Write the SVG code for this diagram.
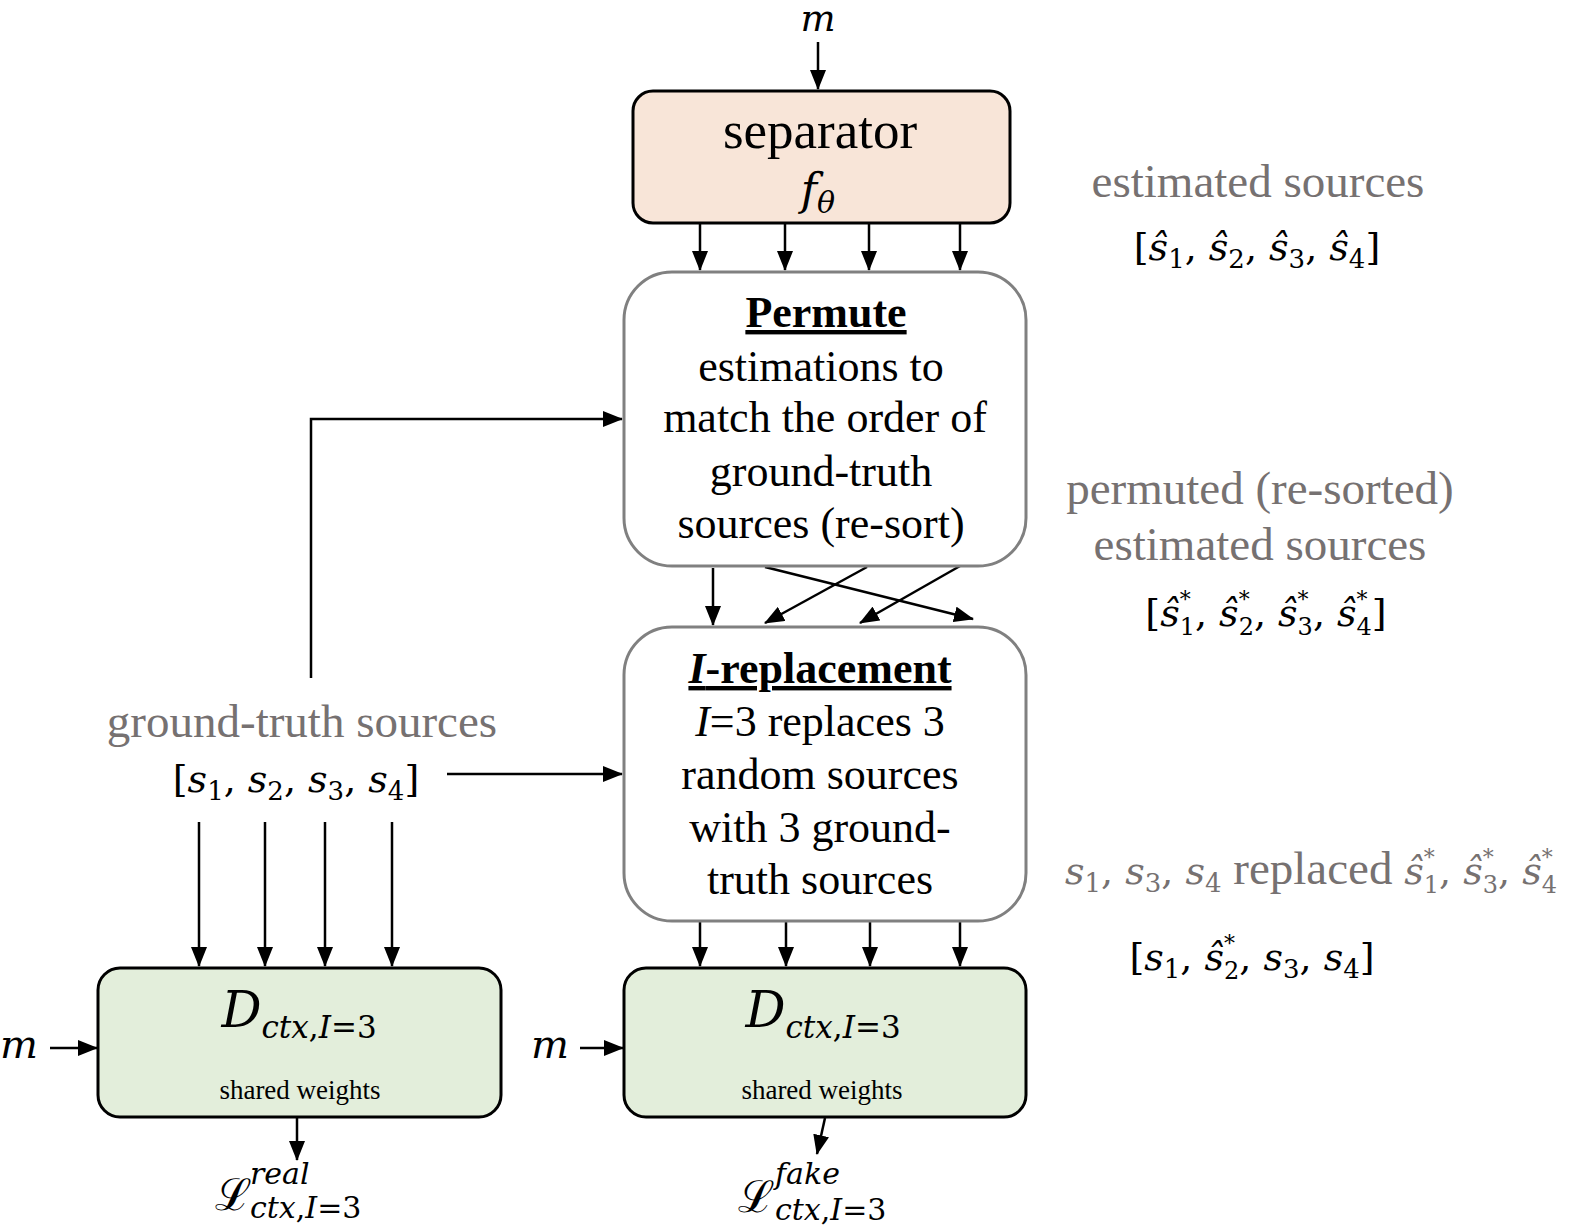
<svg xmlns="http://www.w3.org/2000/svg" width="1576" height="1228" viewBox="0 0 1576 1228">
<style>
.t{font-family:"Liberation Serif","Times New Roman",serif;fill:#000}
.c{text-anchor:middle}
.g{fill:#767171}
.m{font-family:"DejaVu Serif",serif}
.i{font-style:italic}
.ln{stroke:#000;stroke-width:2.5;fill:none}
.arr{marker-end:url(#ah)}
.sep{fill:#f8e5d8;stroke:#000;stroke-width:3}
.proc{fill:#fff;stroke:#808080;stroke-width:3}
.disc{fill:#e3eedb;stroke:#000;stroke-width:3}
</style>
<defs>
<marker id="ah" markerWidth="20" markerHeight="16" refX="19" refY="8" orient="auto" markerUnits="userSpaceOnUse">
<path d="M0,0 L20,8 L0,16 z" fill="#000"/>
</marker>
</defs>

<g id="connectors">
<line class="ln arr" x1="818" y1="42" x2="818" y2="89"/>
<line class="ln arr" x1="700" y1="223" x2="700" y2="270"/>
<line class="ln arr" x1="785" y1="223" x2="785" y2="270"/>
<line class="ln arr" x1="869" y1="223" x2="869" y2="270"/>
<line class="ln arr" x1="960" y1="223" x2="960" y2="270"/>
<line class="ln arr" x1="713" y1="568" x2="713" y2="625"/>
<line class="ln arr" x1="765" y1="567" x2="973" y2="619"/>
<line class="ln arr" x1="867" y1="567" x2="765" y2="623"/>
<line class="ln arr" x1="960" y1="566" x2="860" y2="623"/>
<polyline class="ln arr" points="311,678 311,419 622,419"/>
<line class="ln arr" x1="447" y1="774" x2="622" y2="774"/>
<line class="ln arr" x1="199" y1="822" x2="199" y2="966"/>
<line class="ln arr" x1="265" y1="822" x2="265" y2="966"/>
<line class="ln arr" x1="325" y1="822" x2="325" y2="966"/>
<line class="ln arr" x1="392" y1="822" x2="392" y2="966"/>
<line class="ln arr" x1="700" y1="922" x2="700" y2="966"/>
<line class="ln arr" x1="786" y1="922" x2="786" y2="966"/>
<line class="ln arr" x1="870" y1="922" x2="870" y2="966"/>
<line class="ln arr" x1="960" y1="922" x2="960" y2="966"/>
<line class="ln arr" x1="50" y1="1048" x2="97" y2="1048"/>
<line class="ln arr" x1="580" y1="1048" x2="623" y2="1048"/>
<line class="ln arr" x1="297" y1="1118" x2="297" y2="1160"/>
<line class="ln arr" x1="825" y1="1118" x2="817" y2="1154"/>
</g>

<g id="input-m-top">
<text class="m i c" x="818" y="31" font-size="37">m</text>
</g>

<g id="separator">
<rect class="sep" x="633" y="91" width="377" height="132" rx="20"/>
<text class="t c" x="820" y="148" font-size="53">separator</text>
<text class="m" x="818" y="205" font-size="44" text-anchor="middle"><tspan class="i">f</tspan><tspan class="i" font-size="30" dy="8">θ</tspan></text>
</g>

<g id="permute">
<rect class="proc" x="624" y="272" width="402" height="294" rx="48"/>
<text class="t c" x="826" y="327" font-size="44" font-weight="bold" text-decoration="underline">Permute</text>
<text class="t c" x="821" y="381" font-size="44">estimations to</text>
<text class="t c" x="825" y="432" font-size="44">match the order of</text>
<text class="t c" x="821" y="486" font-size="44">ground-truth</text>
<text class="t c" x="821" y="538" font-size="44">sources (re-sort)</text>
</g>

<g id="i-replacement">
<rect class="proc" x="624" y="627" width="402" height="294" rx="48"/>
<text class="t c" x="820" y="683" font-size="44" font-weight="bold" text-decoration="underline"><tspan font-style="italic">I</tspan>-replacement</text>
<text class="t c" x="820" y="736" font-size="44"><tspan font-style="italic">I</tspan>=3 replaces 3</text>
<text class="t c" x="820" y="789" font-size="44">random sources</text>
<text class="t c" x="820" y="842" font-size="44">with 3 ground-</text>
<text class="t c" x="820" y="894" font-size="44">truth sources</text>
</g>

<g id="label-estimated">
<text class="t c g" x="1258" y="197" font-size="47">estimated sources</text>
<text class="m c" x="1257" y="260" font-size="38">[<tspan class="i">ŝ</tspan><tspan font-size="26" dy="8">1</tspan><tspan dy="-8">, </tspan><tspan class="i">ŝ</tspan><tspan font-size="26" dy="8">2</tspan><tspan dy="-8">, </tspan><tspan class="i">ŝ</tspan><tspan font-size="26" dy="8">3</tspan><tspan dy="-8">, </tspan><tspan class="i">ŝ</tspan><tspan font-size="26" dy="8">4</tspan><tspan dy="-8">]</tspan></text>
</g>

<g id="label-permuted">
<text class="t c g" x="1260" y="504" font-size="47">permuted (re-sorted)</text>
<text class="t c g" x="1260" y="560" font-size="47">estimated sources</text>
<text class="m c" x="1266" y="626" font-size="38">[<tspan class="i">ŝ</tspan><tspan font-size="22" dy="-19">*</tspan><tspan font-size="24" dx="-11" dy="28">1</tspan><tspan dy="-9">, </tspan><tspan class="i">ŝ</tspan><tspan font-size="22" dy="-19">*</tspan><tspan font-size="24" dx="-11" dy="28">2</tspan><tspan dy="-9">, </tspan><tspan class="i">ŝ</tspan><tspan font-size="22" dy="-19">*</tspan><tspan font-size="24" dx="-11" dy="28">3</tspan><tspan dy="-9">, </tspan><tspan class="i">ŝ</tspan><tspan font-size="22" dy="-19">*</tspan><tspan font-size="24" dx="-11" dy="28">4</tspan><tspan dy="-9">]</tspan></text>
</g>

<g id="label-ground-truth">
<text class="t c g" x="302" y="737" font-size="47">ground-truth sources</text>
<text class="m c" x="296" y="792" font-size="38">[<tspan class="i">s</tspan><tspan font-size="26" dy="8">1</tspan><tspan dy="-8">, </tspan><tspan class="i">s</tspan><tspan font-size="26" dy="8">2</tspan><tspan dy="-8">, </tspan><tspan class="i">s</tspan><tspan font-size="26" dy="8">3</tspan><tspan dy="-8">, </tspan><tspan class="i">s</tspan><tspan font-size="26" dy="8">4</tspan><tspan dy="-8">]</tspan></text>
</g>

<g id="label-replaced">
<text class="m g" x="1065" y="884" font-size="38"><tspan class="i">s</tspan><tspan font-size="26" dy="8">1</tspan><tspan dy="-8">, </tspan><tspan class="i">s</tspan><tspan font-size="26" dy="8">3</tspan><tspan dy="-8">, </tspan><tspan class="i">s</tspan><tspan font-size="26" dy="8">4</tspan><tspan dy="-8" font-family="Liberation Serif, serif" font-size="47"> replaced </tspan><tspan class="i">ŝ</tspan><tspan font-size="22" dy="-19">*</tspan><tspan font-size="24" dx="-11" dy="28">1</tspan><tspan dy="-9">, </tspan><tspan class="i">ŝ</tspan><tspan font-size="22" dy="-19">*</tspan><tspan font-size="24" dx="-11" dy="28">3</tspan><tspan dy="-9">, </tspan><tspan class="i">ŝ</tspan><tspan font-size="22" dy="-19">*</tspan><tspan font-size="24" dx="-11" dy="28">4</tspan></text>
<text class="m c" x="1252" y="970" font-size="38">[<tspan class="i">s</tspan><tspan font-size="26" dy="8">1</tspan><tspan dy="-8">, </tspan><tspan class="i">ŝ</tspan><tspan font-size="22" dy="-19">*</tspan><tspan font-size="24" dx="-11" dy="28">2</tspan><tspan dy="-9">, </tspan><tspan class="i">s</tspan><tspan font-size="26" dy="8">3</tspan><tspan dy="-8">, </tspan><tspan class="i">s</tspan><tspan font-size="26" dy="8">4</tspan><tspan dy="-8">]</tspan></text>
</g>

<g id="discriminator-real">
<rect class="disc" x="98" y="968" width="403" height="149" rx="22"/>
<text class="m c" x="299" y="1027" font-size="50"><tspan class="i">D</tspan><tspan font-size="31" dy="11"><tspan class="i">ctx</tspan>,<tspan class="i">I</tspan>=3</tspan></text>
<text class="t c" x="300" y="1099" font-size="27">shared weights</text>
</g>

<g id="discriminator-fake">
<rect class="disc" x="624" y="968" width="402" height="149" rx="22"/>
<text class="m c" x="823" y="1027" font-size="50"><tspan class="i">D</tspan><tspan font-size="31" dy="11"><tspan class="i">ctx</tspan>,<tspan class="i">I</tspan>=3</tspan></text>
<text class="t c" x="822" y="1099" font-size="27">shared weights</text>
</g>

<g id="input-m-left">
<text class="m i" x="0" y="1058" font-size="40">m</text>
</g>
<g id="input-m-right">
<text class="m i" x="531" y="1058" font-size="40">m</text>
</g>

<g id="loss-real">
<text class="m" x="215" y="1210" font-size="44">ℒ<tspan class="i" x="250" y="1184" font-size="30">real</tspan><tspan x="250" y="1218" font-size="30"><tspan class="i">ctx</tspan>,<tspan class="i">I</tspan>=3</tspan></text>
</g>

<g id="loss-fake">
<text class="m" x="738" y="1212" font-size="44">ℒ<tspan class="i" x="775" y="1184" font-size="30">fake</tspan><tspan x="775" y="1220" font-size="30"><tspan class="i">ctx</tspan>,<tspan class="i">I</tspan>=3</tspan></text>
</g>
</svg>
